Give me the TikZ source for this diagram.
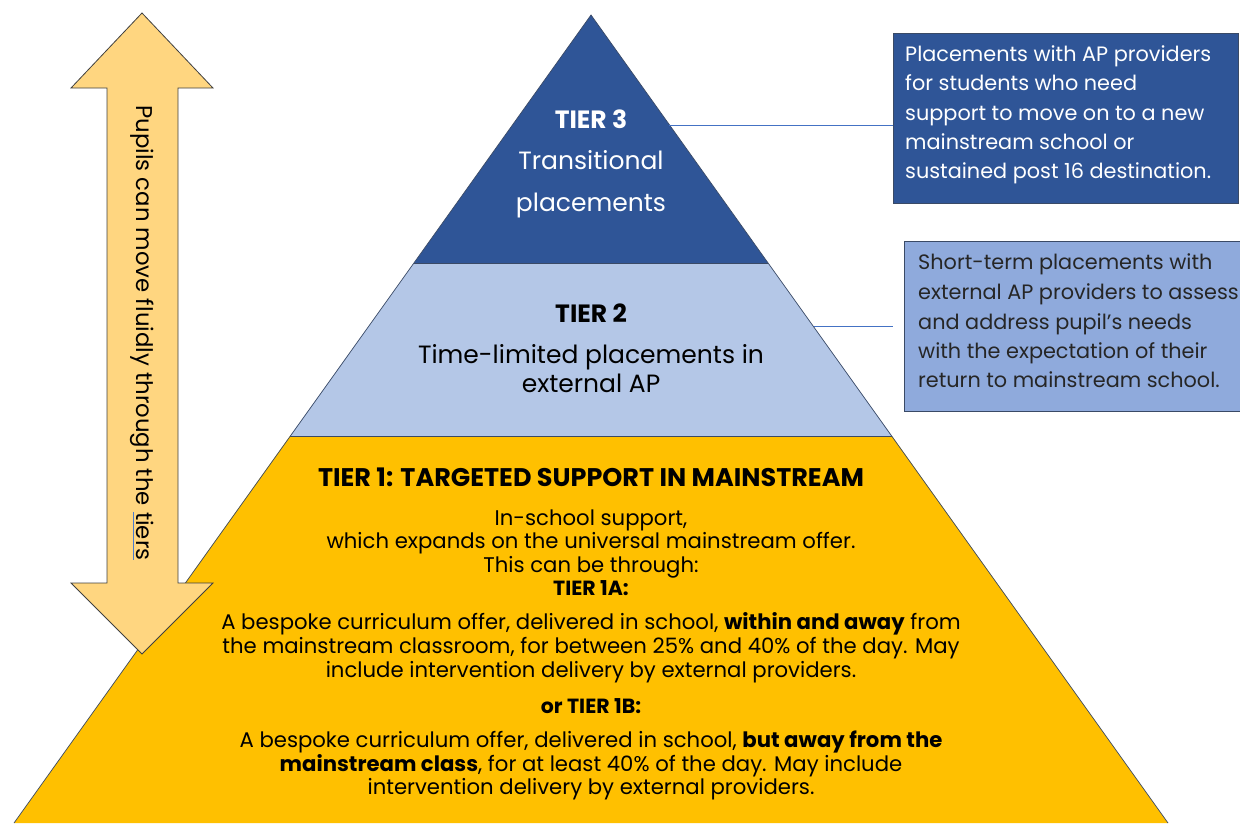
\documentclass[tikz,border=0pt]{standalone}
\usepackage{fontspec}
\setmainfont{Poppins}
\definecolor{tthree}{HTML}{2F5597}
\definecolor{ttwo}{HTML}{B4C7E7}
\definecolor{tone}{HTML}{FFC000}
\definecolor{boxtwo}{HTML}{8FAADC}
\definecolor{arrfill}{HTML}{FFD680}
\definecolor{edge}{HTML}{3A4A66}
\definecolor{conn}{HTML}{4472C4}
\definecolor{ulblue}{HTML}{4A7BD0}
\newlength\ulw
\newcommand\blueul[1]{\settowidth\ulw{#1}\rlap{\color{ulblue}\rule[-3pt]{\ulw}{1pt}}#1}
\newcommand\fs[1]{\fontsize{#1}{#1}\selectfont}
\begin{document}
\begin{tikzpicture}[x=1pt,y=-1pt,
  tierpoly/.style={draw=edge,line width=0.7pt},
  txt/.style={inner sep=0pt,anchor=base},
  bodytxt/.style={txt,font=\fs{21.2}},
  boxtxt/.style={inner sep=0pt,anchor=base west,font=\fs{20.8}},
  connector/.style={draw=conn,line width=0.8pt},
  infobox/.style={draw=edge,line width=0.8pt,inner sep=0pt}]
\useasboundingbox (0,0) rectangle (1240,823);
% pyramid corners
\coordinate (apex) at (591,15);
\coordinate (l3) at (414,263); \coordinate (r3) at (768,263);
\coordinate (l2) at (290,436); \coordinate (r2) at (892,436);
\coordinate (l1) at (14,823); \coordinate (r1) at (1168,823);
\fill[tone] (l2) -- (r2) -- (r1) -- (l1) -- cycle;
\fill[ttwo] (l3) -- (r3) -- (r2) -- (l2) -- cycle;
\fill[tthree] (apex) -- (r3) -- (l3) -- cycle;
\draw[tierpoly] (l1) -- (apex) -- (r1);
\draw[tierpoly] (l3) -- (r3);
\draw[tierpoly] (l2) -- (r2);
% tier 3 text
\node[txt,text=white,font=\bfseries\fs{25}] (t3h) at (591,128) {TIER 3};
\node[txt,text=white,font=\fs{25}] (t3a) at (591,169) {Transitional};
\node[txt,text=white,font=\fs{25}] (t3b) at (591,211) {placements};
% tier 2 text
\node[txt,font=\bfseries\fs{25}] (t2h) at (591,322) {TIER 2};
\node[txt,font=\fs{25}] (t2a) at (591,363) {Time-limited placements in};
\node[txt,font=\fs{25}] (t2b) at (591,392) {external AP};
% tier 1 text
\node[txt,font=\bfseries\fs{25.5}] (t1h) at (591,486) {TIER 1: TARGETED SUPPORT IN MAINSTREAM};
\node[bodytxt] (t1a) at (591,525) {In-school support,};
\node[bodytxt] (t1b) at (591,548) {which expands on the universal mainstream offer.};
\node[bodytxt] (t1c) at (591,572) {This can be through:};
\node[bodytxt,font=\bfseries\fs{20.5}] (t1d) at (591,595) {TIER 1A:};
\node[bodytxt] (t1e) at (591,629) {A bespoke curriculum offer, delivered in school, \textbf{within and away} from};
\node[bodytxt] (t1f) at (591,653) {the mainstream classroom, for between 25\% and 40\% of the day. May};
\node[bodytxt] (t1g) at (591,677) {include intervention delivery by external providers.};
\node[bodytxt,font=\bfseries\fs{20.5}] (t1h2) at (591,713) {or TIER 1B:};
\node[bodytxt] (t1i) at (591,747) {A bespoke curriculum offer, delivered in school, \textbf{but away from the}};
\node[bodytxt] (t1j) at (591,771) {\textbf{mainstream class}, for at least 40\% of the day. May include};
\node[bodytxt] (t1k) at (591,794) {intervention delivery by external providers.};
% double arrow
\draw[fill=arrfill,draw=black!75,line width=0.8pt]
  (142,13) -- (213,88) -- (178,88) -- (178,583) -- (213,583) -- (142,654)
  -- (71,583) -- (107,583) -- (107,88) -- (71,88) -- cycle;
\node[inner sep=0pt,rotate=-90,font=\fs{22.8}] (arrtxt) at (142,333) {Pupils can move fluidly through the \blueul{tiers}};
% info boxes
\node[infobox,fill=tthree,minimum width=345pt,minimum height=170pt] (box3) at (1066,118) {};
\node[infobox,fill=boxtwo,minimum width=336pt,minimum height=170pt] (box2) at (1072,326) {};
\node[boxtxt,text=white] (b3a) at (905,61) {Placements with AP providers};
\node[boxtxt,text=white] (b3b) at (905,90) {for students who need};
\node[boxtxt,text=white] (b3c) at (905,120) {support to move on to a new};
\node[boxtxt,text=white] (b3d) at (905,149) {mainstream school or};
\node[boxtxt,text=white] (b3e) at (905,178) {sustained post 16 destination.};
\node[boxtxt,text=black!85] (b2a) at (918,269) {Short-term placements with};
\node[boxtxt,text=black!85] (b2b) at (918,299) {external AP providers to assess};
\node[boxtxt,text=black!85] (b2c) at (918,329) {and address pupil's needs};
\node[boxtxt,text=black!85] (b2d) at (918,358) {with the expectation of their};
\node[boxtxt,text=black!85] (b2e) at (918,387) {return to mainstream school.};
% connectors
\coordinate (c3s) at (669,125);
\coordinate (c2s) at (814,326);
\coordinate (c2e) at (893,326);
\draw[connector] (c3s) -- (c3s -| box3.west);
\draw[connector] (c2s) -- (c2e);
\end{tikzpicture}
\end{document}
